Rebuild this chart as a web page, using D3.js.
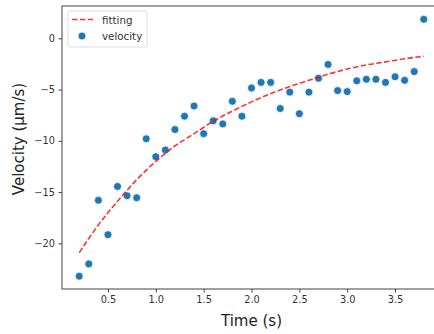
<!DOCTYPE html>
<html lang="en">
  <head>
    <meta charset="utf-8">
    <title>Velocity vs time</title>
    <script src="https://cdn.jsdelivr.net/npm/d3@7"></script>
    <style>
      body { margin: 0; background: white; }
      text { font-family: "DejaVu Sans", sans-serif; }
      .tick text { fill: #333; font-size: 9.8px; }
      .tick line { stroke: #444; }
    </style>
  </head>
  <body>
    <script>
      // measured points, one every 0.1 s
      var time = [0.2, 0.3, 0.4, 0.5, 0.6, 0.7, 0.8, 0.9, 1.0, 1.1, 1.2, 1.3, 1.4, 1.5, 1.6, 1.7, 1.8, 1.9,
                  2.0, 2.1, 2.2, 2.3, 2.4, 2.5, 2.6, 2.7, 2.8, 2.9, 3.0, 3.1, 3.2, 3.3, 3.4, 3.5, 3.6, 3.7, 3.8];
      var velocity = [-23.2, -22.0, -15.8, -19.15, -14.45, -15.35, -15.55, -9.8, -11.55, -10.9, -8.9, -7.6, -6.6,
                      -9.3, -8.05, -8.35, -6.15, -7.6, -4.85, -4.3, -4.3, -6.85, -5.25, -7.35, -5.25, -3.9,
                      -2.55, -5.1, -5.2, -4.15, -4.0, -4.0, -4.3, -3.75, -4.1, -3.25, 1.85];

      // fitted curve
      var fitTime = [0.2, 0.4, 0.6, 0.8, 1.0, 1.2, 1.4, 1.6, 1.8, 2.0, 2.2, 2.4, 2.6, 2.8, 3.0, 3.2, 3.4, 3.6, 3.8];
      var fitVel = [-20.9, -18.2, -15.9, -13.8, -12.0, -10.5, -9.3, -8.1, -7.1, -6.2, -5.4, -4.7, -4.1,
                    -3.5, -3.0, -2.6, -2.3, -2.0, -1.75];

      var xTicks = [0.5, 1.0, 1.5, 2.0, 2.5, 3.0, 3.5];
      var yTicks = [0, -5, -10, -15, -20];

      var margin = {top: 6, left: 62},
          width = 441 - 62,
          height = 289 - 6;

      var svg = d3.select("body")
                  .append("svg")
                  .attr("width", 434)
                  .attr("height", 334);

      var g = svg.append("g")
                 .attr("transform", "translate(" + margin.left + "," + margin.top + ")");

      var x = d3.scaleLinear()
                .domain([0.02, 3.98])
                .range([0, width]);

      var y = d3.scaleLinear()
                .domain([-24.45, 3.15])
                .range([height, 0]);

      // frame
      g.append("rect")
       .attr("width", width)
       .attr("height", height)
       .attr("fill", "none")
       .attr("stroke", "#555")
       .attr("stroke-width", 1.1);

      g.append("g")
       .attr("transform", "translate(0," + height + ")")
       .call(d3.axisBottom(x).tickValues(xTicks).tickFormat(d3.format(".1f")).tickSize(3.5).tickPadding(3.5))
       .call(a => a.select(".domain").remove());

      g.append("g")
       .call(d3.axisLeft(y).tickValues(yTicks).tickFormat(d => d < 0 ? "\u2212" + Math.abs(d) : d)
               .tickSize(3.5).tickPadding(3.5))
       .call(a => a.select(".domain").remove());

      var line = d3.line()
                   .x((d, i) => x(fitTime[i]))
                   .y(d => y(d))
                   .curve(d3.curveMonotoneX);

      var pts = time.map((t, i) => ({t: t, v: velocity[i]}));

      g.append("g")
       .selectAll("circle")
       .data(pts)
       .enter()
       .append("circle")
         .attr("cx", d => x(d.t))
         .attr("cy", d => y(d.v))
         .attr("r", 4)
         .attr("fill", "#1f77b4")
         .attr("stroke", "white")
         .attr("stroke-width", 0.8);

      g.append("path")
       .datum(fitVel)
       .attr("d", line)
       .attr("fill", "none")
       .attr("stroke", "red")
       .attr("stroke-opacity", 0.8)
       .attr("stroke-width", 1.6)
       .attr("stroke-dasharray", "5.5,2.4");

      // legend
      var lg = svg.append("g");
      lg.append("rect")
        .attr("x", 68).attr("y", 11)
        .attr("width", 79).attr("height", 36)
        .attr("rx", 2)
        .attr("fill", "white")
        .attr("fill-opacity", 0.8)
        .attr("stroke", "#ddd");
      lg.append("line")
        .attr("x1", 72).attr("x2", 93)
        .attr("y1", 19.5).attr("y2", 19.5)
        .attr("stroke", "red")
        .attr("stroke-opacity", 0.8)
        .attr("stroke-width", 1.6)
        .attr("stroke-dasharray", "5.5,2.4");
      lg.append("circle")
        .attr("cx", 82).attr("cy", 36)
        .attr("r", 4)
        .attr("fill", "#1f77b4")
        .attr("stroke", "white")
        .attr("stroke-width", 0.8);
      lg.append("text")
        .attr("x", 102).attr("y", 23.5)
        .attr("font-size", "10.3px").attr("fill", "#333")
        .text("fitting");
      lg.append("text")
        .attr("x", 102).attr("y", 39.5)
        .attr("font-size", "10.3px").attr("fill", "#333")
        .text("velocity");

      // axis titles
      svg.append("text")
         .attr("x", margin.left + x(2.0))
         .attr("y", 326)
         .attr("text-anchor", "middle")
         .attr("font-size", "15px")
         .attr("fill", "#222")
         .text("Time (s)");

      svg.append("text")
         .attr("transform", "translate(24,139) rotate(-90)")
         .attr("text-anchor", "middle")
         .attr("font-size", "15px")
         .attr("fill", "#222")
         .text("Velocity (\u03bcm/s)");
    </script>
  </body>
</html>
